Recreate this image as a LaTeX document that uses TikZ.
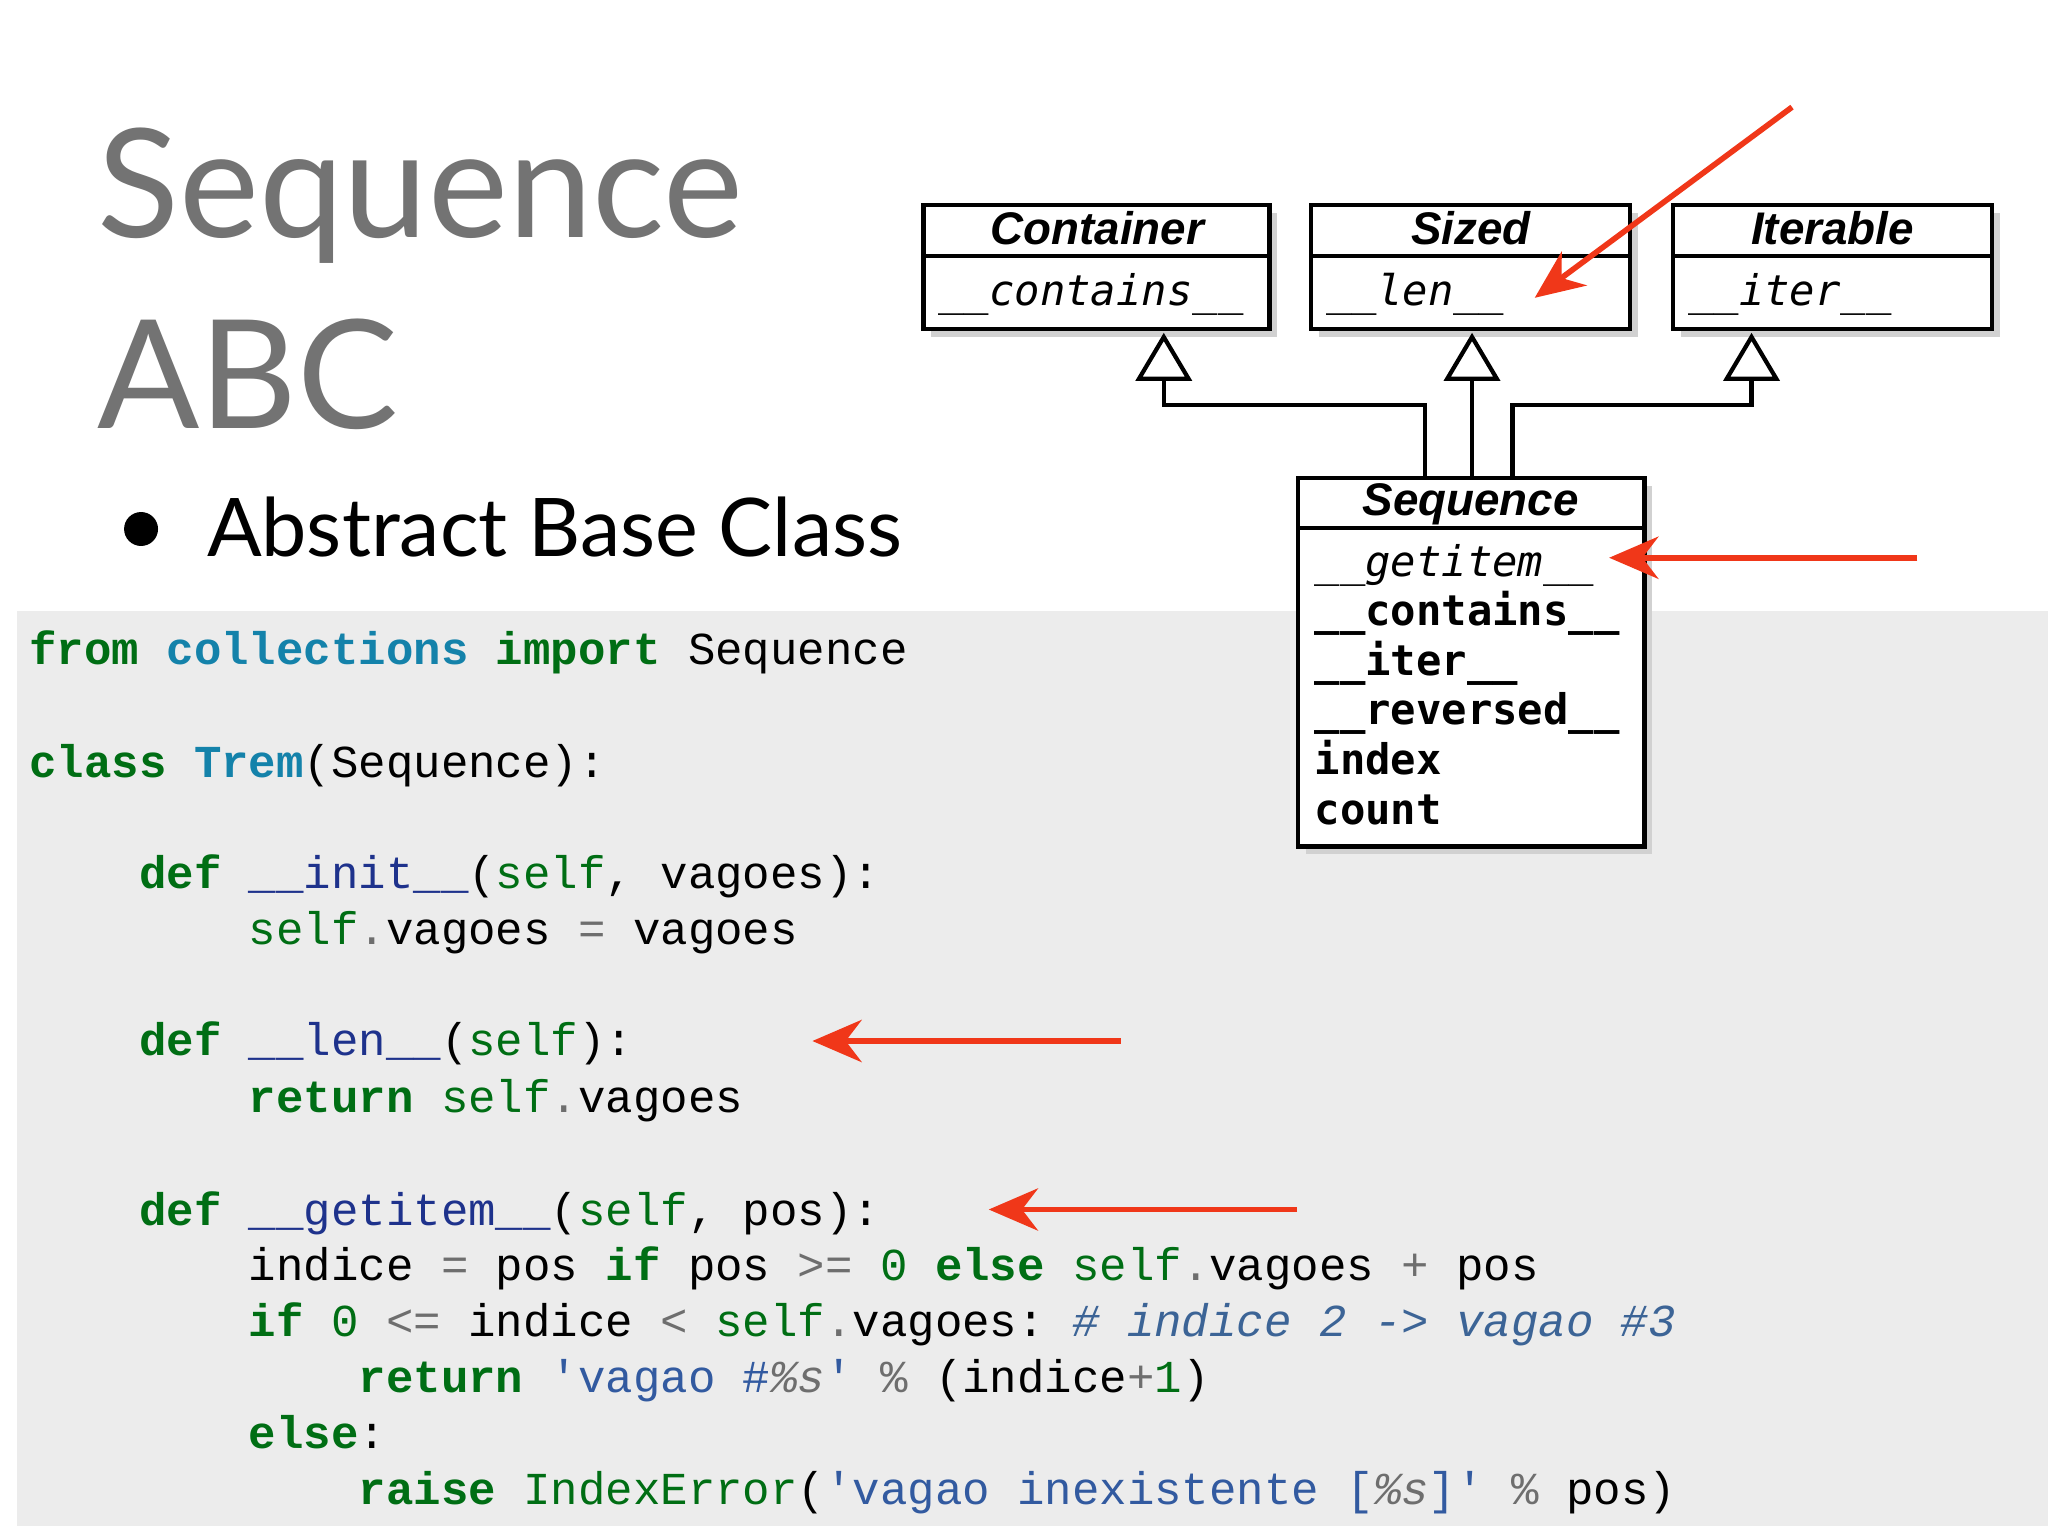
\documentclass[tikz,border=0pt]{standalone}
\usepackage{fontspec}
\setmainfont{Lato}
\setmonofont{Liberation Mono}
\newfontfamily\umlsans{Liberation Sans}
\newfontfamily\umlmono{DejaVu Sans Mono}
\usetikzlibrary{arrows.meta}
\definecolor{kw}{RGB}{0,110,20}
\definecolor{tl}{RGB}{20,130,170}
\definecolor{fn}{RGB}{30,50,140}
\definecolor{st}{RGB}{50,90,160}
\definecolor{cm}{RGB}{60,100,150}
\definecolor{op}{RGB}{110,110,110}
\definecolor{rd}{RGB}{240,55,25}
\definecolor{codebg}{RGB}{236,236,236}
\newcommand{\K}[1]{\textcolor{kw}{\textbf{#1}}}
\newcommand{\G}[1]{\textcolor{kw}{#1}}
\newcommand{\F}[1]{\textcolor{fn}{#1}}
\newcommand{\T}[1]{\textcolor{tl}{\textbf{#1}}}
\newcommand{\Op}[1]{\textcolor{op}{#1}}
\tikzset{
 code/.style={anchor=base west,inner sep=0,font=\fontsize{13}{14}\ttfamily},
 umlbox/.style={draw,line width=1.2pt,fill=white},
 hd/.style={anchor=base,inner sep=0,font=\fontsize{13}{14}\umlsans\bfseries\itshape},
 mt/.style={anchor=base west,inner sep=0,font=\fontsize{12}{13}\umlmono},
 redarrow/.style={draw=rd,line width=1.6pt,-{Stealth[length=14pt,width=12pt]}},
 tri/.style={draw,line width=1.2pt,fill=white},
 ln/.style={draw,line width=1.2pt}
}
\begin{document}
\begin{tikzpicture}[x=0.3713pt,y=-0.3713pt]
\useasboundingbox (0,0) rectangle (1568,1176);
\fill[white] (0,0) rectangle (1568,1176);
\fill[codebg] (13,468) rectangle (1568,1168);
% title
\node[anchor=base west,inner sep=0,font=\fontsize{43}{50}\selectfont,text=black!55] (t1) at (74,182) {Sequence};
\node[anchor=base west,inner sep=0,font=\fontsize{43}{50}\selectfont,text=black!55] (t2) at (74,328) {ABC};
\fill (108,405) circle (13);
\node[anchor=base west,inner sep=0,font=\fontsize{23}{28}\selectfont] (t3) at (158,426) {Abstract Base Class};
% UML shadows
\foreach \a/\b/\c/\d in {707/157/972/252,1004/157/1248/252,1281/157/1525/252,994/366/1259/648}
  \fill[black!18] (\a+6,\b+6) rectangle (\c+6,\d+6);
\draw[umlbox] (707,157) rectangle (972,252); \draw[line width=1.2pt] (707,196)--(972,196);
\draw[umlbox] (1004,157) rectangle (1248,252); \draw[line width=1.2pt] (1004,196)--(1248,196);
\draw[umlbox] (1281,157) rectangle (1525,252); \draw[line width=1.2pt] (1281,196)--(1525,196);
\draw[umlbox] (994,366) rectangle (1259,648); \draw[line width=1.2pt] (994,404)--(1259,404);
\node[hd] (h1) at (840,187) {Container};
\node[hd] (h2) at (1126,187) {Sized};
\node[hd] (h3) at (1403,187) {Iterable};
\node[hd] (h4) at (1126,395) {Sequence};
\node[mt,font=\fontsize{12}{13}\umlmono\itshape] (m1) at (718,234) {\_\_contains\_\_};
\node[mt,font=\fontsize{12}{13}\umlmono\itshape] (m2) at (1015,234) {\_\_len\_\_};
\node[mt,font=\fontsize{12}{13}\umlmono\itshape] (m3) at (1292,234) {\_\_iter\_\_};
\node[mt,font=\fontsize{12}{13}\umlmono\itshape] (s1) at (1006,441) {\_\_getitem\_\_};
\node[mt,font=\fontsize{12}{13}\umlmono\bfseries] (s2) at (1006,479) {\_\_contains\_\_};
\node[mt,font=\fontsize{12}{13}\umlmono\bfseries] (s3) at (1006,517) {\_\_iter\_\_};
\node[mt,font=\fontsize{12}{13}\umlmono\bfseries] (s4) at (1006,555) {\_\_reversed\_\_};
\node[mt,font=\fontsize{12}{13}\umlmono\bfseries] (s5) at (1006,593) {index};
\node[mt,font=\fontsize{12}{13}\umlmono\bfseries] (s6) at (1006,631) {count};
% inheritance
\draw[ln] (891,290)--(891,310)--(1091,310)--(1091,366);
\draw[ln] (1127,290)--(1127,366);
\draw[ln] (1341,290)--(1341,310)--(1158,310)--(1158,366);
\foreach \x in {891,1127,1341} \draw[tri] (\x,258)--(\x+19,290)--(\x-19,290)--cycle;
% code
\node[code] (c1) at (22,509) {\K{from} \T{collections} \K{import} Sequence};
\node[code] (c2) at (22,595) {\K{class} \T{Trem}(Sequence):};
\node[code] (c3) at (22,680) {\phantom{xxxx}\K{def} \F{\_\_init\_\_}(\G{self}, vagoes):};
\node[code] (c4) at (22,723) {\phantom{xxxxxxxx}\G{self}\Op{.}vagoes \Op{=} vagoes};
\node[code] (c5) at (22,808) {\phantom{xxxx}\K{def} \F{\_\_len\_\_}(\G{self}):};
\node[code] (c6) at (22,852) {\phantom{xxxxxxxx}\K{return} \G{self}\Op{.}vagoes};
\node[code] (c7) at (22,938) {\phantom{xxxx}\K{def} \F{\_\_getitem\_\_}(\G{self}, pos):};
\node[code] (c8) at (22,980) {\phantom{xxxxxxxx}indice \Op{=} pos \K{if} pos \Op{>=} \G{0} \K{else} \G{self}\Op{.}vagoes \Op{+} pos};
\node[code] (c9) at (22,1023) {\phantom{xxxxxxxx}\K{if} \G{0} \Op{<=} indice \Op{<} \G{self}\Op{.}vagoes: \textcolor{cm}{\itshape\# indice 2 -> vagao \#3}};
\node[code] (c10) at (22,1066) {\phantom{xxxxxxxxxxxx}\K{return} \textcolor{st}{'vagao \#\textcolor{op}{\itshape\%s}'} \Op{\%} (indice\Op{+}\G{1})};
\node[code] (c11) at (22,1109) {\phantom{xxxxxxxx}\K{else}:};
\node[code] (c12) at (22,1152) {\phantom{xxxxxxxxxxxx}\K{raise} \G{IndexError}(\textcolor{st}{'vagao inexistente [\textcolor{op}{\itshape\%s}]'} \Op{\%} pos)};
% red arrows
\coordinate (r1) at (1372,82); \coordinate (r2) at (1468,427);
\coordinate (r3) at (858,797); \coordinate (r4) at (993,926);
\coordinate (e1) at (1175,228); \coordinate (e2) at (1232,427);
\coordinate (e3) at (622,797); \coordinate (e4) at (757,926);
\draw[redarrow] (r1) -- (e1);
\draw[redarrow] (r2) -- (e2);
\draw[redarrow] (r3) -- (e3);
\draw[redarrow] (r4) -- (e4);
\end{tikzpicture}
\end{document}
